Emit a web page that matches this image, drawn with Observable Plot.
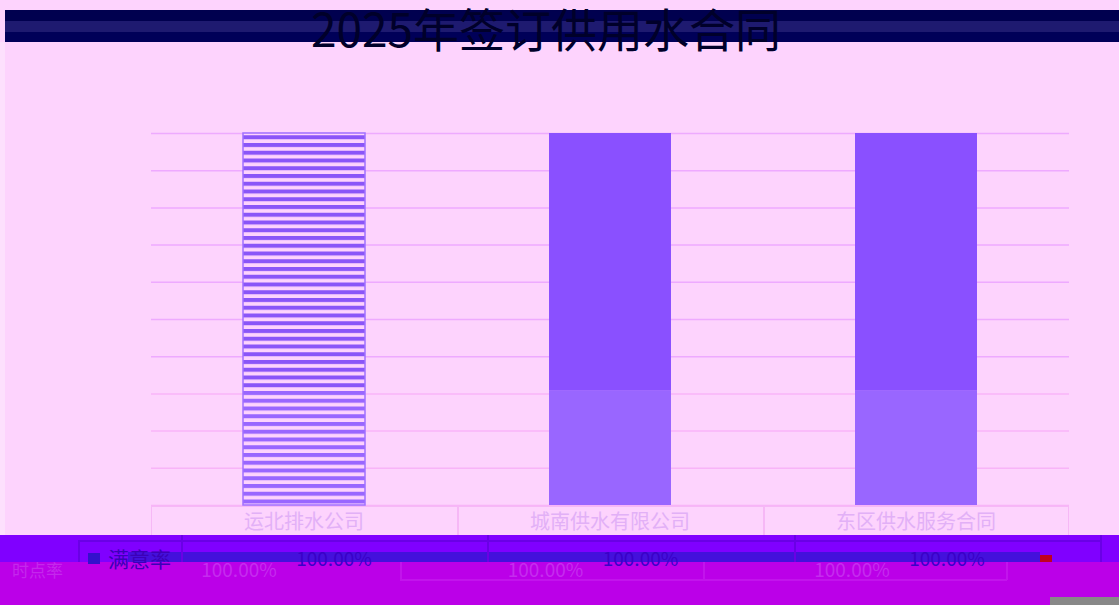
<!DOCTYPE html>
<html><head><meta charset="utf-8">
<script src="https://cdn.jsdelivr.net/npm/d3@7"></script>
<script src="https://cdn.jsdelivr.net/npm/@observablehq/plot@0.6"></script>
<style>
html,body{margin:0;padding:0;}
body{width:1119px;height:605px;position:relative;overflow:hidden;background:#fdd3fd;font-family:"Noto Sans CJK SC","Noto Sans",sans-serif;}
.abs{position:absolute;}
</style></head>
<body>
<script>
// ---- data ----
const title = "2025年签订供用水合同";
const categories = ["运北排水公司", "城南供水有限公司", "东区供水服务合同"];
const rates = [100, 100, 100];            // 签订率 (%)
const lowerPart = [30.7, 30.7, 30.7];     // lighter lower segment of each bar (%)
const rowLabel = "满意率";
const rateLabels = ["100.00%", "100.00%", "100.00%"];
const yTicks = [0, 10, 20, 30, 40, 50, 60, 70, 80, 90, 100];

const rows = categories.map((c, i) => ({cat: c, rate: rates[i], low: lowerPart[i], hatched: i === 0}));

// ---- helpers ----
function div(style, text) {
  const d = document.createElement("div");
  d.className = "abs";
  Object.assign(d.style, style);
  if (text != null) d.textContent = text;
  document.body.appendChild(d);
  return d;
}

// ---- chart ----
const chart = Plot.plot({
  width: 1119,
  height: 457,
  marginTop: 83,
  marginBottom: 2,
  marginLeft: 151,
  marginRight: 50,
  style: {background: "transparent", overflow: "visible"},
  x: {domain: categories, paddingInner: 0.6, paddingOuter: 0.3, axis: null},
  y: {domain: [0, 100], axis: null},
  marks: [
    Plot.ruleY(yTicks, {stroke: d => d >= 40 ? "#eeaaff" : "#f8b4f8", strokeWidth: 1.5}),
    Plot.barY(rows.filter(d => !d.hatched), {x: "cat", y1: "low", y2: "rate", fill: "#8a50ff"}),
    Plot.barY(rows.filter(d => !d.hatched), {x: "cat", y1: 0, y2: "low", fill: "#9966ff"}),
    Plot.barY(rows.filter(d => d.hatched), {x: "cat", y1: "low", y2: "rate", fill: "url(#hatchDark)"}),
    Plot.barY(rows.filter(d => d.hatched), {x: "cat", y1: 0, y2: "low", fill: "url(#hatchLight)"}),
    Plot.barY(rows.filter(d => d.hatched), {x: "cat", y1: 0, y2: "rate", fill: "none", stroke: "#a070ff", strokeWidth: 1.5})
  ]
});
chart.style.position = "absolute";
chart.style.left = "0px";
chart.style.top = "50px";
const defs = d3.select(chart).insert("defs", ":first-child");
[["hatchDark", "#8a55f8"], ["hatchLight", "#9966ff"]].forEach(([id, col]) => {
  const p = defs.append("pattern").attr("id", id).attr("patternUnits", "userSpaceOnUse")
    .attr("width", 8).attr("height", 7.75);
  p.append("rect").attr("width", 8).attr("height", 7.75).attr("fill", "#fdd3fd");
  p.append("rect").attr("y", 0).attr("width", 8).attr("height", 4).attr("fill", col);
});
document.body.appendChild(chart);

// ---- title band ----
div({left:"5px", top:"10px", width:"1114px", height:"11px", background:"#00004f"});
div({left:"5px", top:"21px", width:"1114px", height:"11px", background:"#1e1a70"});
div({left:"5px", top:"32px", width:"1114px", height:"10px", background:"#000058"});
div({left:"0px", top:"42px", width:"5px", height:"493px", background:"#fde0fd"});
div({left:"546px", top:"1px", transform:"translateX(-50%)", fontSize:"46px", color:"#00002a", whiteSpace:"nowrap", lineHeight:"52px"}, title);

// ---- category label row ----
const xs = chart.scale("x");
const step = xs.step;
const bandStart = i => xs.apply(categories[i]) - (step - xs.bandwidth) / 2;
div({left:"151px", top:"506px", width:"918px", height:"29px", borderTop:"1.5px solid #f6b8f6", borderLeft:"1.5px solid #f6b8f6", borderRight:"1.5px solid #f6b8f6", boxSizing:"border-box"});
categories.forEach((c, i) => {
  const l = bandStart(i);
  if (i > 0) div({left: l + "px", top:"506px", width:"1.5px", height:"29px", background:"#f6b8f6"});
  div({left: l + "px", top:"507px", width: step + "px", textAlign:"center", fontSize:"20px", lineHeight:"28px", color:"#e2b0f7"}, c);
});

// ---- data table band ----
div({left:"0px", top:"535px", width:"1119px", height:"27px", background:"#8000ff"});
div({left:"128px", top:"552px", width:"912px", height:"10px", background:"#4410dc"});
div({left:"1040px", top:"555px", width:"12px", height:"11px", background:"#c00020"});
div({left:"0px", top:"562px", width:"1119px", height:"43px", background:"#bb00e8"});
div({left:"1050px", top:"597px", width:"69px", height:"8px", background:"#888888"});
// table grid lines
div({left:"78px", top:"540px", width:"1022px", height:"1.5px", background:"#6a00e6"});
div({left:"78px", top:"540px", width:"1.5px", height:"22px", background:"#6a00e6"});
const colEdges = [181, 487, 794, 1100];
colEdges.forEach(x => div({left: x + "px", top:"535px", width:"1.5px", height:"27px", background:"#6a00e6"}));
// ghost grid in magenta band
div({left:"400px", top:"579px", width:"607px", height:"1.5px", background:"#c214ec"});
[400, 703, 1006].forEach(x => div({left: x + "px", top:"562px", width:"1.5px", height:"18px", background:"#c214ec"}));
// legend key + label
div({left:"88px", top:"553px", width:"12px", height:"11px", background:"#3311cc"});
div({left:"108px", top:"544px", fontSize:"21px", lineHeight:"28px", color:"#3c00b8", whiteSpace:"nowrap"}, rowLabel);
div({left:"12px", top:"558px", fontSize:"17px", lineHeight:"24px", color:"#c428ec", whiteSpace:"nowrap"}, "时点" + rowLabel.slice(2));
rateLabels.forEach((t, i) => {
  const l = colEdges[i], w = colEdges[i + 1] - colEdges[i];
  div({left: (l - 95) + "px", top:"556px", width: w + "px", textAlign:"center", fontSize:"19px", lineHeight:"26px", color:"#c52cee"}, t);
  div({left: l + "px", top:"545px", width: w + "px", textAlign:"center", fontSize:"19px", lineHeight:"26px", color:"#3a00c8"}, t);
});
</script>
</body></html>
